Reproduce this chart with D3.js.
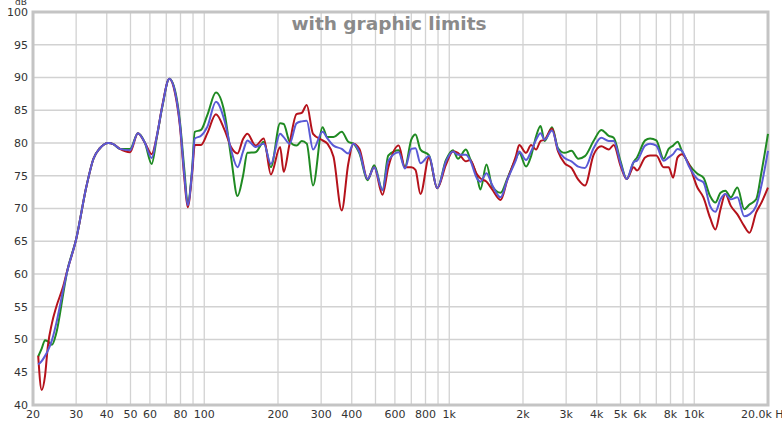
<!DOCTYPE html>
<html>
<head>
<meta charset="utf-8">
<script src="https://cdn.jsdelivr.net/npm/d3@7"></script>
<style>
    body { margin: 0; background: #fff; }
    .tick-label { font-family: "DejaVu Sans", sans-serif; font-size: 11px; fill: #333; }
</style>
</head>
<body>
<div id="response-chart"></div>
<script>

// frequency points (Hz)
var freqs = [21, 21.7, 22.4, 23, 23.9, 24.9, 26.6, 27.5, 30, 33.1, 35.3, 37.5, 40.6, 42.7, 45.3, 49.8,
    53.6, 57.3, 61, 64, 67.5, 72, 76, 79.6, 83, 85.6, 89.3, 91.5, 97, 103, 111.6, 121, 129, 136.7, 144, 150,
    162, 175, 187, 204, 211, 223, 238, 250, 262, 278, 304, 318, 337, 364, 387, 406, 430, 464, 494,
    534, 564, 622, 659, 700, 728, 763, 827, 893, 970, 1035, 1085, 1170, 1216, 1298, 1340, 1419, 1497,
    1620, 1727, 1871, 1930, 2058, 2158, 2261, 2358, 2450, 2627, 2780, 2960, 3153, 3362, 3580, 3882,
    4174, 4476, 4692, 5003, 5300, 5660, 5840, 6300, 6600, 7000, 7500, 7860, 8200, 8550, 8900, 9500,
    10300, 10900, 11600, 12200, 12800, 13400, 14100, 15000, 16000, 16800, 17900, 18800, 20000];

var redDb = [47.5, 42.3, 44.5, 49, 52.5, 55, 58.2, 60.3, 65.3, 73.5, 77.6, 79.2, 80, 79.8, 79.1, 78.6,
    81.5, 80, 78.3, 81, 85.8, 89.8, 87.6, 82.5, 74.5, 70.2, 75.5, 79.7, 79.7, 81.5, 84.4, 82, 79.3, 78.4, 80.6, 81.4,
    79.6, 80.7, 75.2, 79.4, 75.6, 79.9, 84.4, 84.6, 85.8, 81.4, 80.4, 79.9, 77.9, 69.7, 76.8, 79.9, 79.1, 74.5, 76.3,
    72.1, 76.3, 79.6, 76.3, 76.3, 75.9, 72.2, 77.8, 73.1, 76.7, 78.7, 78.5, 77.2, 77.4, 75.2, 74.6, 74.1, 72.9,
    71.3, 74.4, 78, 79.7, 78.5, 79.7, 79, 80.3, 80.5, 82.2, 78.7, 76.9, 76.2, 74.4, 73.5, 78.2,
    79.5, 79, 79.7, 76.5, 74.5, 76.3, 75.8, 77.8, 78.1, 78.1, 76.3, 76.3, 74.7, 77.8, 78.3, 76.8,
    73.2, 71.7, 68.6, 66.8, 69.9, 72.2, 70.4, 69.1, 67.3, 66.3, 69.4, 70.9, 73.2];

var greenDb = [47.4, 48.6, 49.9, 49.7, 49.2, 51, 57.1, 60.2, 65.3, 73.5, 77.6, 79.2, 80, 79.8, 79.1, 79.1,
    81.5, 80, 76.8, 80.8, 85.6, 89.8, 88, 83.2, 75.8, 70.8, 76.2, 81.7, 82, 84.3, 87.7, 84.6, 77.5, 71.9, 75, 78.5,
    78.6, 80.2, 76.3, 83, 82.9, 80.2, 79.6, 80.3, 79.9, 73.5, 82.4, 80.9, 80.9, 81.7, 80.2, 79.9, 78.4, 74.3, 76.6,
    72.8, 78.1, 78.9, 76.3, 80.5, 81.3, 79, 78.1, 73.1, 77.4, 78.9, 77.6, 79, 77.6, 74.9, 72.9, 76.7, 73.4,
    72.4, 74.6, 77.6, 78.5, 76.4, 78, 81, 82.6, 80.3, 82.4, 79.2, 78.5, 78.8, 77.6, 78, 80.3,
    82, 81.1, 80.8, 77.2, 74.5, 77.1, 77.8, 80.4, 80.7, 80.4, 77.6, 79.1, 79.6, 80.2, 78.8, 76.8,
    75.3, 74.7, 71.9, 70.9, 72.4, 72.7, 71.7, 73.2, 69.9, 70.6, 71.4, 75.5, 81.4];

var blueDb = [46.2, 46.7, 47.5, 48.3, 49.9, 52.5, 57.7, 60.2, 65.3, 73.5, 77.6, 79.2, 80, 79.8, 79.1, 78.9,
    81.5, 80, 77.7, 81, 85.7, 89.8, 87.8, 82.8, 75, 70.5, 75.9, 80.7, 81.1, 82.5, 86.3, 83.4, 78.8, 76.3, 78.7, 80.4,
    79.4, 79.9, 76.8, 81.4, 80.9, 79.9, 83, 83.3, 83.4, 79, 81.7, 80.7, 79.6, 79.1, 78.4, 79.9, 78.6, 74.5, 76.3,
    72.8, 77.3, 78.6, 76.1, 79.1, 79.2, 76.9, 78, 73.1, 77.2, 78.7, 78.2, 78.2, 77.4, 74.6, 74.1, 75.4, 73.6,
    71.7, 74.4, 77.4, 78.7, 77.4, 78.7, 80.5, 81.5, 80.5, 81.9, 79, 77.7, 77.2, 76.4, 76.2, 79.2,
    80.8, 80.3, 80.3, 76.9, 74.5, 77.1, 77.3, 79.6, 79.9, 79.6, 77.3, 77.8, 78.3, 79.1, 78.8, 76.5,
    74.5, 74, 70.4, 69.5, 71.4, 72.2, 71.4, 71.7, 68.8, 69.1, 70.4, 73.5, 78.8];

// axis ticks
var dbTicks = [40, 45, 50, 55, 60, 65, 70, 75, 80, 85, 90, 95, 100];
var gridFreqs = [30, 40, 50, 60, 70, 80, 90, 100, 200, 300, 400, 500, 600, 700, 800, 900,
    1000, 2000, 3000, 4000, 5000, 6000, 7000, 8000, 9000, 10000];
var labelFreqs = [20, 30, 40, 50, 60, 80, 100, 200, 300, 400, 600, 800,
    1000, 2000, 3000, 4000, 5000, 6000, 8000, 10000];
var labelText = ["20", "30", "40", "50", "60", "80", "100", "200", "300", "400", "600", "800",
    "1k", "2k", "3k", "4k", "5k", "6k", "8k", "10k"];

var titleText = "with graphic limits";

var series = [
    {name: "green", values: greenDb, color: "#1f8a22"},
    {name: "red", values: redDb, color: "#b5121b"},
    {name: "blue", values: blueDb, color: "#5a5ad6"}
];

var width = 782, height = 425;
var margin = {top: 12, right: 14, bottom: 20, left: 33};

var svg = d3.select("#response-chart").append("svg")
    .attr("width", width)
    .attr("height", height);

var x = d3.scaleLog()
    .domain([20, 20000])
    .range([margin.left, width - margin.right]);

var y = d3.scaleLinear()
    .domain([40, 100])
    .range([height - margin.bottom, margin.top]);

//-----grid------
svg.append("g")
    .selectAll("line")
    .data(gridFreqs)
    .enter()
    .append("line")
    .attr("x1", function(d) { return x(d); })
    .attr("x2", function(d) { return x(d); })
    .attr("y1", y(100))
    .attr("y2", y(40))
    .style("stroke", "#d2d2d2")
    .style("stroke-width", 1.3);

svg.append("g")
    .selectAll("line")
    .data(dbTicks.slice(1, -1))
    .enter()
    .append("line")
    .attr("x1", x(20))
    .attr("x2", x(20000))
    .attr("y1", function(d) { return y(d); })
    .attr("y2", function(d) { return y(d); })
    .style("stroke", "#d2d2d2")
    .style("stroke-width", 1.3);

//-----frame------
svg.append("rect")
    .attr("x", x(20))
    .attr("y", y(100))
    .attr("width", x(20000) - x(20))
    .attr("height", y(40) - y(100))
    .style("fill", "none")
    .style("stroke", "#c4c4c4")
    .style("stroke-width", 3);

//-----curves------
var line = d3.line()
    .x(function(d) { return x(d.f); })
    .y(function(d) { return y(d.v); })
    .curve(d3.curveMonotoneX);

svg.append("g")
    .selectAll("path")
    .data(series)
    .enter()
    .append("path")
    .attr("d", function(s) {
        return line(freqs.map(function(f, i) { return {f: f, v: s.values[i]}; }));
    })
    .style("fill", "none")
    .style("stroke", function(s) { return s.color; })
    .style("stroke-width", 2)
    .style("stroke-linejoin", "round");

//-----labels------
svg.append("g")
    .selectAll("text")
    .data(dbTicks)
    .enter()
    .append("text")
    .attr("class", "tick-label")
    .attr("x", 28)
    .attr("y", function(d) { return y(d); })
    .attr("dy", "0.36em")
    .attr("text-anchor", "end")
    .text(function(d) { return d; });

svg.append("text")
    .attr("class", "tick-label")
    .attr("x", 21)
    .attr("y", 5)
    .attr("text-anchor", "middle")
    .style("font-size", "9px")
    .text("dB");

svg.append("g")
    .selectAll("text")
    .data(labelFreqs)
    .enter()
    .append("text")
    .attr("class", "tick-label")
    .attr("x", function(d) { return x(d); })
    .attr("y", 418)
    .attr("text-anchor", "middle")
    .text(function(d, i) { return labelText[i]; });

svg.append("text")
    .attr("class", "tick-label")
    .attr("x", 741)
    .attr("y", 418)
    .attr("text-anchor", "start")
    .text("20.0k Hz");

svg.append("text")
    .attr("x", 389)
    .attr("y", 30)
    .attr("text-anchor", "middle")
    .style("font-family", "'DejaVu Sans', sans-serif")
    .style("font-weight", "bold")
    .style("font-size", "18.5px")
    .style("fill", "#8a8a8a")
    .text(titleText);

</script>
</body>
</html>
